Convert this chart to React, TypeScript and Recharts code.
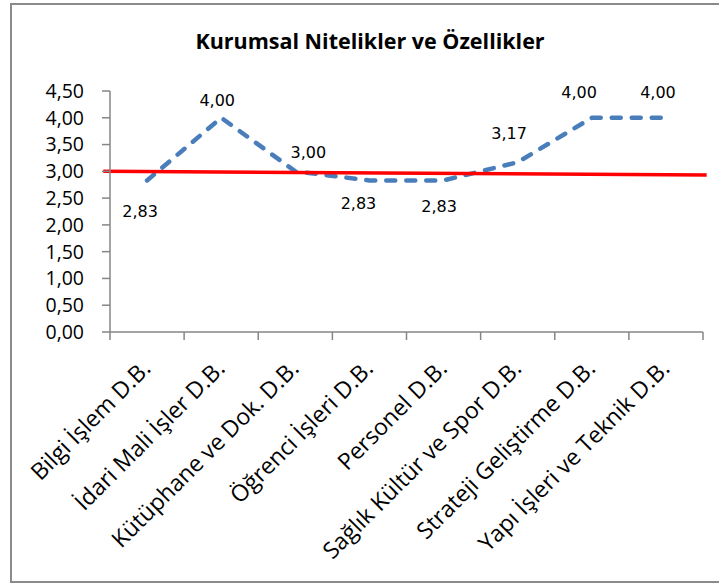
import React from 'react';
import { LineChart, Line, XAxis, YAxis, ReferenceLine, LabelList } from 'recharts';

const chartTitle = 'Kurumsal Nitelikler ve Özellikler';
const categories = [
  'Bilgi İşlem D.B.',
  'İdari Mali İşler D.B.',
  'Kütüphane ve Dok. D.B.',
  'Öğrenci İşleri D.B.',
  'Personel D.B.',
  'Sağlık Kültür ve Spor D.B.',
  'Strateji Geliştirme D.B.',
  'Yapı İşleri ve Teknik D.B.',
];
const scores = [2.83, 4.0, 3.0, 2.83, 2.83, 3.17, 4.0, 4.0];
const yTicks = [0, 0.5, 1, 1.5, 2, 2.5, 3, 3.5, 4, 4.5];
const xBoundaries = [0, 1, 2, 3, 4, 5, 6, 7, 8];
const refStart = { x: -0.09, y: 3.0 };
const refEnd = { x: 8.05, y: 2.93 };

// style: label offsets (px) relative to each point
const labelOffsets: [number, number][] = [
  [-7, 31], [-4, -17], [13, -19], [-11, 23], [-4.5, 26], [-8.6, -29], [-12.7, -25], [-8, -25],
];

const data = categories.map((name, i) => ({ name, pos: i + 0.5, value: scores[i] }));

const fmt = (v: number) => v.toFixed(2).replace('.', ',');
const AXIS_FONT = '"Open Sans", sans-serif';

const XTick = (props: any) => {
  const { x, y, payload, width, visibleTicksCount } = props;
  const idx = payload.value;
  if (idx >= categories.length) return <g />;
  const w = typeof width === 'number' ? width : 593;
  const n = visibleTicksCount ? visibleTicksCount - 1 : 8;
  const half = w / n / 2;
  const ax = x + half + 5;
  const ay = y + 28;
  return (
    <text
      x={ax}
      y={ay}
      transform={`rotate(-45, ${ax}, ${ay})`}
      textAnchor="end"
      fontFamily={AXIS_FONT}
      fontSize={23}
      fill="#000"
    >
      {categories[idx]}
    </text>
  );
};

const renderLabel = (props: any) => {
  const { x, y, value, index } = props;
  const [dx, dy] = labelOffsets[index] || [0, -15];
  return (
    <text
      x={x + dx}
      y={y + dy}
      textAnchor="middle"
      dominantBaseline="central"
      fontFamily='"DejaVu Sans", sans-serif'
      fontSize={16}
      fill="#000"
    >
      {fmt(value)}
    </text>
  );
};

export default function App() {
  return (
    <div style={{ position: 'absolute', left: 0, top: 0, width: 719, height: 583, background: '#fff', overflow: 'hidden' }}>
      <div
        style={{
          position: 'absolute',
          left: 10,
          top: 3,
          width: 709,
          height: 580,
          boxSizing: 'border-box',
          borderTop: '2px solid #8a8a8a',
          borderLeft: '2px solid #8a8a8a',
          borderBottom: '2px solid #8a8a8a',
        }}
      />
      <div style={{ position: 'absolute', left: 0, top: 0 }}>
        <LineChart width={719} height={583} data={data} margin={{ top: 91, right: 16, bottom: 191, left: 0 }}>
          <XAxis
            dataKey="pos"
            type="number"
            domain={[0, 8]}
            ticks={xBoundaries}
            interval={0}
            height={60}
            axisLine={{ stroke: '#868686', strokeWidth: 1.5 }}
            tickLine={{ stroke: '#868686', strokeWidth: 1.5 }}
            tickSize={8}
            tickMargin={2}
            tick={<XTick />}
          />
          <YAxis
            type="number"
            domain={[0, 4.5]}
            ticks={yTicks}
            interval={0}
            width={110}
            axisLine={{ stroke: '#868686', strokeWidth: 1.5 }}
            tickLine={{ stroke: '#868686', strokeWidth: 1.5 }}
            tickSize={8}
            tickMargin={18}
            tickFormatter={fmt}
            tick={{ fill: '#000', fontFamily: AXIS_FONT, fontSize: 19.5 }}
          />
          <Line
            type="linear"
            dataKey="value"
            stroke="#4A7EBB"
            strokeWidth={4.5}
            strokeDasharray="9 11"
            strokeLinecap="round"
            strokeLinejoin="round"
            dot={false}
            activeDot={false}
            isAnimationActive={false}
          >
            <LabelList dataKey="value" content={renderLabel} />
          </Line>
          <ReferenceLine
            segment={[refStart, refEnd]}
            stroke="#FF0000"
            strokeWidth={3.5}
            ifOverflow="visible"
          />
        </LineChart>
      </div>
      <svg width={719} height={583} style={{ position: 'absolute', left: 0, top: 0, pointerEvents: 'none' }}>
        <text x={370} y={48.5} textAnchor="middle" fontFamily={AXIS_FONT} fontWeight="bold" fontSize={21.5} fill="#000">
          {chartTitle}
        </text>
      </svg>
    </div>
  );
}
